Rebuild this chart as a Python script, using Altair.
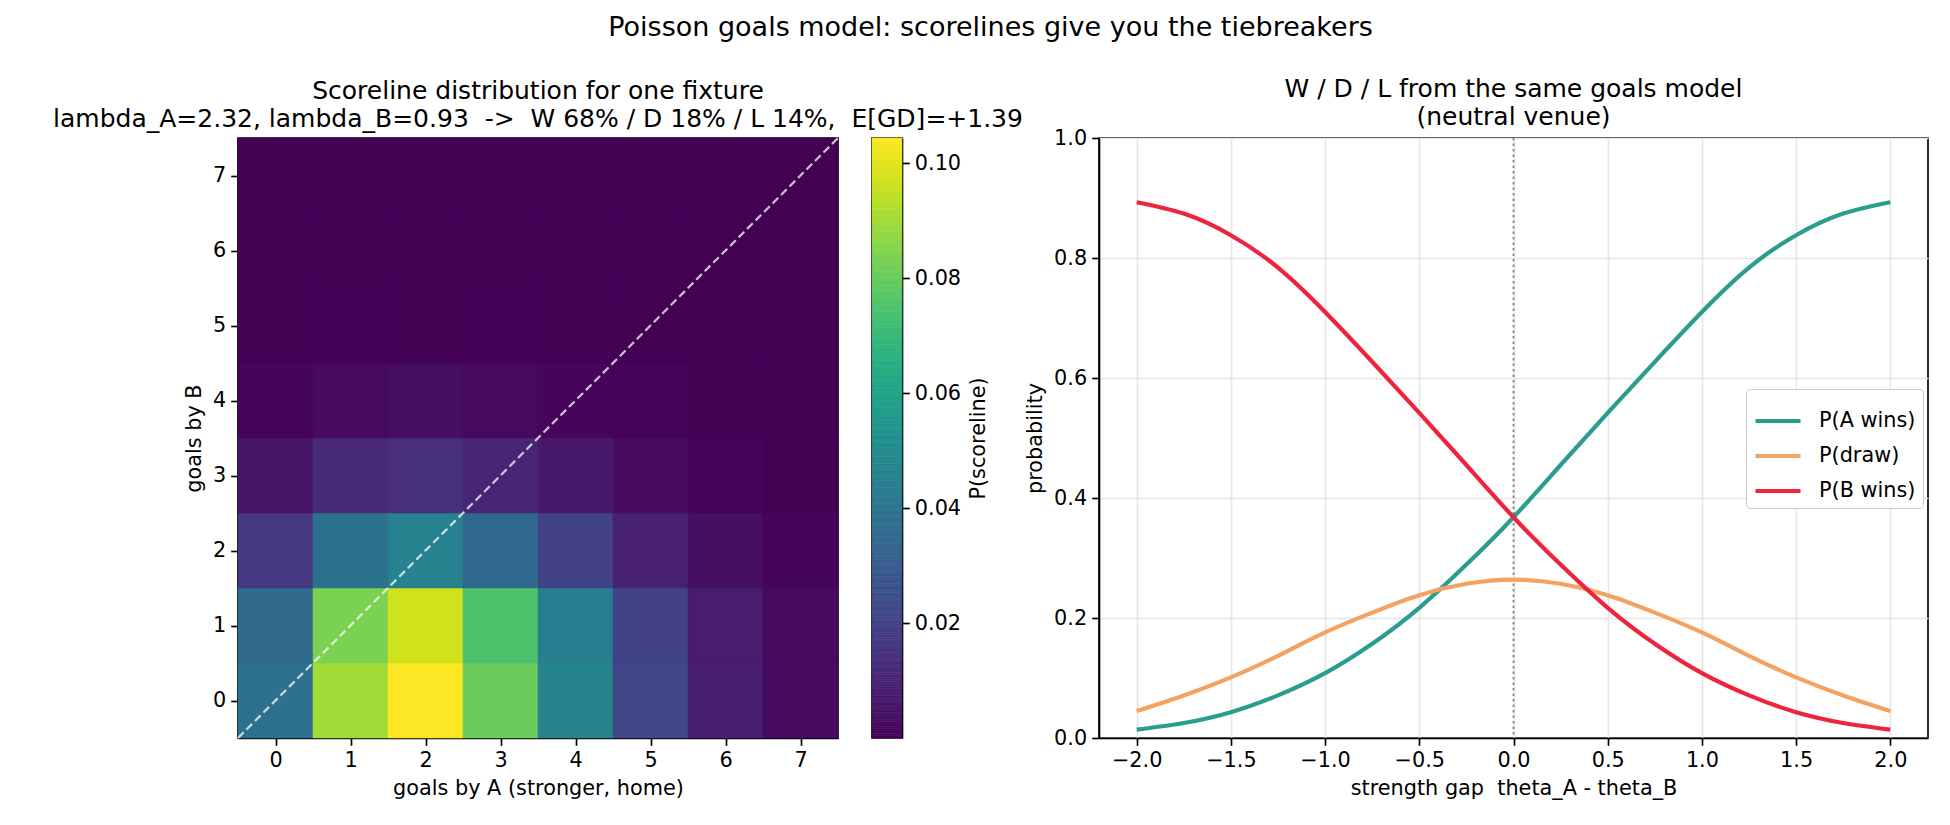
import altair as alt
import numpy as np
import pandas as pd

FONT = "DejaVu Sans"
FS = 20.8          # tick / label size
TITLE_FS = 25
SUPTITLE_FS = 27

# ---- scoreline distribution (rows: goals by B, columns: goals by A) ----
goals = [0, 1, 2, 3, 4, 5, 6, 7]
p_b0 = [0.03878, 0.08996, 0.10435, 0.08070, 0.04680, 0.02172, 0.00840, 0.00278]
p_b1 = [0.03606, 0.08366, 0.09705, 0.07505, 0.04353, 0.02020, 0.00781, 0.00259]
p_b2 = [0.01677, 0.03890, 0.04513, 0.03490, 0.02024, 0.00939, 0.00363, 0.00120]
p_b3 = [0.00520, 0.01206, 0.01399, 0.01082, 0.00627, 0.00291, 0.00113, 0.00037]
p_b4 = [0.00121, 0.00280, 0.00325, 0.00252, 0.00146, 0.00068, 0.00026, 0.00009]
p_b5 = [0.00022, 0.00052, 0.00060, 0.00047, 0.00027, 0.00013, 0.00005, 0.00002]
p_b6 = [0.00003, 0.00008, 0.00009, 0.00007, 0.00004, 0.00002, 0.00001, 0.00000]
p_b7 = [0.00000, 0.00001, 0.00001, 0.00001, 0.00001, 0.00000, 0.00000, 0.00000]
score_rows = [p_b0, p_b1, p_b2, p_b3, p_b4, p_b5, p_b6, p_b7]
diag = [-0.5, 7.5]
cbar_ticks = [0.02, 0.04, 0.06, 0.08, 0.10]

# ---- W / D / L against strength gap ----
gap = [-2.0, -1.75, -1.5, -1.25, -1.0, -0.75, -0.5, -0.25, 0.0,
       0.25, 0.5, 0.75, 1.0, 1.25, 1.5, 1.75, 2.0]
p_a_wins = [0.014, 0.025, 0.043, 0.071, 0.108, 0.157, 0.217, 0.289, 0.368,
            0.455, 0.542, 0.627, 0.710, 0.784, 0.838, 0.874, 0.893]
p_draw = [0.045, 0.071, 0.101, 0.137, 0.176, 0.209, 0.238, 0.257, 0.264,
          0.257, 0.238, 0.209, 0.176, 0.137, 0.101, 0.071, 0.045]
p_b_wins = [0.893, 0.874, 0.838, 0.784, 0.710, 0.627, 0.542, 0.455, 0.368,
            0.289, 0.217, 0.157, 0.108, 0.071, 0.043, 0.025, 0.014]
series_names = ["P(A wins)", "P(draw)", "P(B wins)"]
series_colors = ["#2a9d8f", "#f4a261", "#ef233c"]
zero_gap = [0.0]

heat_df = pd.DataFrame(
    [{"a": a, "b": b, "p": row[a]} for b, row in zip(goals, score_rows) for a in goals]
)
vmin, vmax = float(heat_df.p.min()), float(heat_df.p.max())
color_scale = alt.Scale(scheme="viridis", domain=[vmin, vmax])
cell_scale = alt.Scale(domain=[-0.5, 7.5], nice=False, zero=False)
goals_a_axis = alt.Axis(values=goals, format="d", grid=False, title="goals by A (stronger, home)")
goals_b_axis = alt.Axis(values=goals, format="d", grid=False, title="goals by B")

cells = (
    alt.Chart(heat_df)
    .transform_calculate(a0="datum.a - 0.5", a1="datum.a + 0.5",
                         b0="datum.b - 0.5", b1="datum.b + 0.5")
    .mark_rect(strokeWidth=0.5)
    .encode(
        x=alt.X("a0:Q", scale=cell_scale, axis=goals_a_axis),
        x2="a1:Q",
        y=alt.Y("b0:Q", scale=cell_scale, axis=goals_b_axis),
        y2="b1:Q",
        color=alt.Color("p:Q", scale=color_scale, legend=None),
        stroke=alt.Color("p:Q", scale=color_scale, legend=None),
    )
)
diag_line = (
    alt.Chart(pd.DataFrame({"v": diag}))
    .mark_line(color="white", opacity=0.75, strokeDash=[8, 4], strokeWidth=2.2)
    .encode(x=alt.X("v:Q", scale=cell_scale, axis=goals_a_axis),
            y=alt.Y("v:Q", scale=cell_scale, axis=goals_b_axis))
)
heatmap = alt.layer(cells, diag_line).properties(
    width=600, height=600,
    title=alt.TitleParams(
        text=["Scoreline distribution for one fixture",
              "lambda_A=2.32, lambda_B=0.93 \u00a0-> \u00a0W 68% / D 18% / L 14%, \u00a0E[GD]=+1.39"],
        fontSize=TITLE_FS, lineHeight=28, offset=1.5, anchor="middle"),
)

# colour bar
steps = np.linspace(vmin, vmax, 257)
cbar_df = pd.DataFrame({"lo": steps[:-1], "hi": steps[1:]})
cbar_df["mid"] = (cbar_df.lo + cbar_df.hi) / 2
colorbar = (
    alt.Chart(cbar_df)
    .mark_rect(strokeWidth=0.6)
    .encode(
        y=alt.Y("lo:Q", scale=alt.Scale(domain=[vmin, vmax], nice=False, zero=False),
                axis=alt.Axis(orient="right", values=cbar_ticks, format=".2f", grid=False,
                              title="P(scoreline)", titleAngle=270, titleBaseline="top",
                              titlePadding=8)),
        y2="hi:Q",
        x=alt.value(0),
        x2=alt.value("width"),
        color=alt.Color("mid:Q", scale=color_scale, legend=None),
        stroke=alt.Color("mid:Q", scale=color_scale, legend=None),
    )
    .properties(width=30, height=600)
)

# empty column between the colour bar and the second panel
gutter = (
    alt.Chart(pd.DataFrame({"g": zero_gap}))
    .mark_point(opacity=0)
    .properties(width=129, height=600, view=alt.ViewBackground(stroke=None))
)

# W / D / L curves
line_df = pd.concat([
    pd.DataFrame({"gap": gap, "prob": vals, "series": name})
    for name, vals in zip(series_names, [p_a_wins, p_draw, p_b_wins])
])
gap_scale = alt.Scale(domain=[-2.2, 2.2], nice=False, zero=False)
prob_scale = alt.Scale(domain=[0, 1], nice=False)
gap_axis = alt.Axis(values=[-2.0, -1.5, -1.0, -0.5, 0.0, 0.5, 1.0, 1.5, 2.0], format=".1f",
                    grid=True, title="strength gap \u00a0theta_A - theta_B")
prob_axis = alt.Axis(values=[0.0, 0.2, 0.4, 0.6, 0.8, 1.0], format=".1f", grid=True,
                     title="probability")

zero_rule = (
    alt.Chart(pd.DataFrame({"g": zero_gap}))
    .mark_rule(color="#808080", strokeDash=[2.5, 3], strokeWidth=1.7)
    .encode(x=alt.X("g:Q", scale=gap_scale, axis=gap_axis))
)
curves = (
    alt.Chart(line_df)
    .mark_line(strokeWidth=4.2, interpolate="natural")
    .encode(
        x=alt.X("gap:Q", scale=gap_scale, axis=gap_axis),
        y=alt.Y("prob:Q", scale=prob_scale, axis=prob_axis),
        color=alt.Color(
            "series:N",
            scale=alt.Scale(domain=series_names, range=series_colors),
            sort=series_names,
            legend=alt.Legend(
                title=None, orient="none", legendX=647, legendY=251,
                symbolType="stroke", symbolSize=2025, symbolStrokeWidth=4.2,
                labelFontSize=FS, labelFont=FONT, labelColor="black", labelOffset=16,
                rowPadding=-6, padding=7, strokeColor="#cccccc", fillColor="white",
                cornerRadius=4,
            ),
        ),
        detail="series:N",
    )
)
wdl = alt.layer(zero_rule, curves).properties(
    width=829, height=600,
    title=alt.TitleParams(text=["W / D / L from the same goals model", "(neutral venue)"],
                          fontSize=TITLE_FS, lineHeight=28, offset=-3, anchor="middle"),
)

chart = (
    alt.hconcat(heatmap, colorbar, gutter, wdl, spacing=34, bounds="flush")
    .resolve_scale(color="independent", x="independent", y="independent")
    .properties(
        title=alt.TitleParams("Poisson goals model: scorelines give you the tiebreakers",
                              fontSize=SUPTITLE_FS, anchor="middle", offset=34),
        padding={"left": 52, "top": 14, "right": 20, "bottom": 10},
        background="white",
    )
    .configure_view(stroke="black", strokeWidth=1.67)
    .configure_axis(
        domainColor="black", domainWidth=1.67, tickColor="black", tickWidth=1.67,
        tickSize=7.3, labelFont=FONT, labelFontSize=FS, labelColor="black",
        labelPadding=5, titleFont=FONT, titleFontSize=FS, titleFontWeight="normal",
        titleColor="black", titlePadding=8, gridColor="#e6e6e6", gridWidth=1.67,
    )
    .configure_title(font=FONT, fontWeight="normal", color="black")
)

chart.save("out.html", embed_options={"renderer": "svg", "actions": False})
